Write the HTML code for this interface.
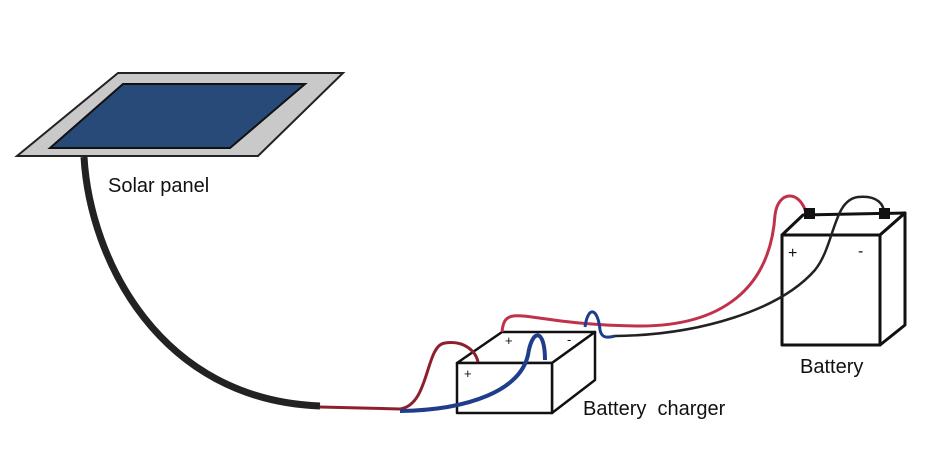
<!DOCTYPE html>
<html><head><style>
html,body{margin:0;padding:0;background:#fff;}
svg{display:block}
text{font-family:"Liberation Sans",sans-serif;font-size:20px;fill:#111}
</style></head><body>
<svg width="934" height="450" viewBox="0 0 934 450" xmlns="http://www.w3.org/2000/svg">
<!-- solar panel -->
<polygon points="17,156 118,73 343,73 258,156" fill="#c9c9c9" stroke="#222" stroke-width="2"/>
<polygon points="50,148 123,84 305,84 230,148" fill="#284a78" stroke="#111" stroke-width="2"/>
<!-- cable -->
<path d="M84,157 C90,260 160,400 320,406" fill="none" stroke="#222" stroke-width="7"/>
<text x="108" y="192">Solar panel</text>
<!-- charger box -->
<g fill="#fff" stroke="#111" stroke-width="2.5" stroke-linejoin="round">
<polygon points="457,363 502,332 595,332 552,363"/>
<polygon points="552,363 595,332 595,380 552,413"/>
<rect x="457" y="363" width="95" height="50"/>
</g>
<!-- wires to charger (on top) -->
<path d="M320,407 L400,409 C430,405 425,345 445,343 C465,340 476,352 478,362" fill="none" stroke="#8e1f2e" stroke-width="3"/>
<path d="M400,411 C470,410 520,390 528,355 C532,328 545,328 545,360" fill="none" stroke="#1f3d8a" stroke-width="4"/>
<!-- battery -->
<g fill="#fff" stroke="#111" stroke-width="3" stroke-linejoin="round">
<polygon points="782,235 803,215 905,213 880,235"/>
<polygon points="880,235 905,213 905,325 880,345"/>
<rect x="782" y="235" width="98" height="110"/>
</g>
<path d="M502,332 C505,300 525,325 640,326 C720,326 770,290 775,215 C778,190 800,190 806,213" fill="none" stroke="#c0314a" stroke-width="3"/>
<path d="M585,327 C588,305 598,308 600,330 C602,340 610,337 615,336" fill="none" stroke="#1f3d8a" stroke-width="3"/>
<path d="M615,336 C700,335 780,310 815,270 C835,245 833,200 858,197 C878,195 884,205 884,213" fill="none" stroke="#222" stroke-width="2.5"/>
<rect x="804" y="208" width="11" height="11" fill="#111"/>
<rect x="879" y="208" width="11" height="11" fill="#111"/>
<text x="505" y="345" style="font-size:13px">+</text>
<text x="567" y="344" style="font-size:13px">-</text>
<text x="464" y="378" style="font-size:13px">+</text>
<text x="788" y="258" style="font-size:16px">+</text>
<text x="858" y="256" style="font-size:16px">-</text>
<text x="800" y="373">Battery</text>
<text x="583" y="415" xml:space="preserve">Battery&#160; charger</text>
</svg>
</body></html>
